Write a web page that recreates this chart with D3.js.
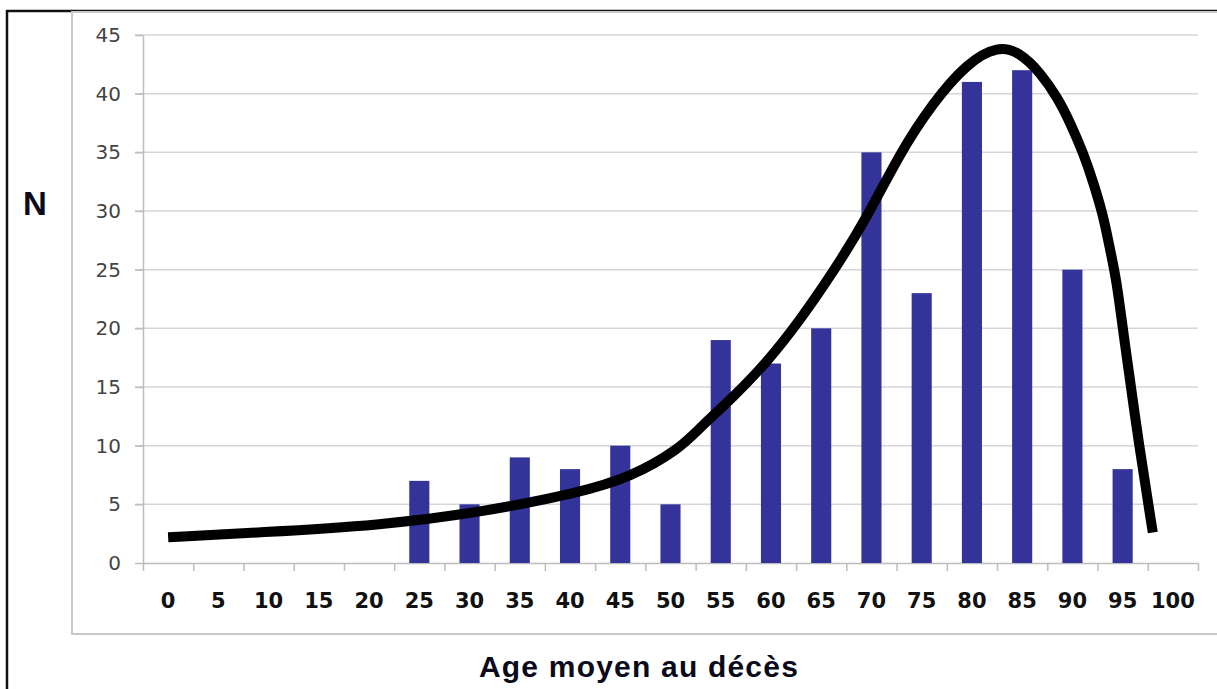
<!DOCTYPE html>
<html>
<head>
<meta charset="utf-8">
<script src="https://cdn.jsdelivr.net/npm/d3@7"></script>
<style>
  body { margin: 0; background: #fff; }
  svg { display: block; }
</style>
</head>
<body>
<script>
// age classes and counts (bars)
const ages = [0, 5, 10, 15, 20, 25, 30, 35, 40, 45, 50, 55, 60, 65, 70, 75, 80, 85, 90, 95, 100];
const counts = [0, 0, 0, 0, 0, 7, 5, 9, 8, 10, 5, 19, 17, 20, 35, 23, 41, 42, 25, 8, 0];
const yTicks = [0, 5, 10, 15, 20, 25, 30, 35, 40, 45];

// hand drawn fitted curve
const curveAge = [0, 9.1, 21.1, 31.0, 41.0, 46.0, 50.9, 53.0, 56.2, 59.6, 62.9, 66.2, 69.6, 72.8, 76.1, 79.5,
                  82.6, 84.8, 86.8, 88.5, 89.8, 91.1, 92.1, 93.1, 93.7, 94.4, 95.1, 96.7, 98.0];
const curveN = [2.2, 2.6, 3.2, 4.3, 6.0, 7.3, 9.7, 11.6, 14.1, 17.1, 20.7, 24.8, 29.5, 34.9, 39.2, 42.6,
                44.1, 43.5, 41.8, 39.7, 37.5, 34.9, 32.4, 29.5, 26.9, 24.1, 19.4, 9.6, 2.6];

let width = 1217, height = 689;
let plotLeft = 143, plotRight = 1198, plotTop = 35, plotBottom = 563;

let svg = d3.select('body')
    .append('svg')
    .attr('width', width)
    .attr('height', height);

// outer frame and chart area box
svg.append('rect')
    .attr('x', 7).attr('y', 11)
    .attr('width', width).attr('height', height)
    .attr('fill', 'none')
    .attr('stroke', '#111')
    .attr('stroke-width', 2.5);

svg.append('rect')
    .attr('x', 72).attr('y', 12)
    .attr('width', width).attr('height', 622)
    .attr('fill', 'none')
    .attr('stroke', '#c8c8c8')
    .attr('stroke-width', 2);

let xBand = d3.scaleBand()
    .domain(ages)
    .range([plotLeft, plotRight])
    .paddingInner(0.6)
    .paddingOuter(0.3);

let xLin = d3.scaleLinear()
    .domain([-2.5, 102.5])
    .range([plotLeft, plotRight]);

let yScale = d3.scaleLinear()
    .domain([0, 45])
    .range([plotBottom, plotTop]);

// gridlines
svg.append('g')
    .selectAll('line')
    .data(yTicks.filter(d => d > 0))
    .enter()
    .append('line')
    .attr('x1', plotLeft - 8)
    .attr('x2', plotRight)
    .attr('y1', d => yScale(d))
    .attr('y2', d => yScale(d))
    .attr('stroke', '#d6d6d6')
    .attr('stroke-width', 1.5);

// y axis
let yAxis = d3.axisLeft(yScale)
    .tickValues(yTicks)
    .tickSize(8)
    .tickSizeOuter(0)
    .tickPadding(14);

let gy = svg.append('g')
    .attr('transform', 'translate(' + plotLeft + ',0)')
    .call(yAxis);
gy.select('.domain').attr('stroke', '#bdbdbd').attr('stroke-width', 1.5);
gy.selectAll('.tick line').attr('stroke', '#bdbdbd').attr('stroke-width', 1.5);
gy.selectAll('.tick text')
    .attr('fill', '#444')
    .style('font-family', '"DejaVu Sans", Verdana, sans-serif')
    .style('font-size', '20px');

// x axis: ticks between the classes, labels centred on the classes
let xAxis = d3.axisBottom(xLin)
    .tickValues(d3.range(22).map(i => -2.5 + 5 * i))
    .tickFormat('')
    .tickSize(8)
    .tickSizeOuter(0);

let gx = svg.append('g')
    .attr('transform', 'translate(0,' + plotBottom + ')')
    .call(xAxis);
gx.select('.domain').attr('stroke', '#bdbdbd').attr('stroke-width', 1.5);
gx.selectAll('.tick line').attr('stroke', '#bdbdbd').attr('stroke-width', 1.5);

svg.append('g')
    .selectAll('text')
    .data(ages)
    .enter()
    .append('text')
    .attr('x', d => xBand(d) + xBand.bandwidth() / 2)
    .attr('y', 608)
    .attr('text-anchor', 'middle')
    .style('font-family', '"DejaVu Sans", Verdana, sans-serif')
    .style('font-weight', 'bold')
    .style('font-size', '21px')
    .attr('fill', '#111')
    .text(d => d);

// bars
svg.append('g')
    .selectAll('rect')
    .data(ages.map((a, i) => ({ age: a, n: counts[i] })).filter(d => d.n > 0))
    .enter()
    .append('rect')
    .attr('x', d => xBand(d.age))
    .attr('y', d => yScale(d.n))
    .attr('width', xBand.bandwidth())
    .attr('height', d => plotBottom - yScale(d.n))
    .attr('fill', '#333399');

// curve
let line = d3.line()
    .x(d => xLin(d[0]))
    .y(d => yScale(d[1]))
    .curve(d3.curveBasis);

svg.append('path')
    .datum(curveAge.map((a, i) => [a, curveN[i]]))
    .attr('d', line)
    .attr('fill', 'none')
    .attr('stroke', '#000')
    .attr('stroke-width', 10);

// axis titles
svg.append('text')
    .attr('x', 35)
    .attr('y', 215)
    .attr('text-anchor', 'middle')
    .style('font-family', '"Liberation Sans", Arial, sans-serif')
    .style('font-weight', 'bold')
    .style('font-size', '33px')
    .attr('fill', '#0a0a1a')
    .text('N');

svg.append('text')
    .attr('x', 639)
    .attr('y', 677)
    .attr('text-anchor', 'middle')
    .style('font-family', '"Liberation Sans", Arial, sans-serif')
    .style('font-weight', 'bold')
    .style('font-size', '30px')
    .style('letter-spacing', '1.2px')
    .attr('fill', '#0a0a1a')
    .text('Age moyen au décès');
</script>
</body>
</html>
